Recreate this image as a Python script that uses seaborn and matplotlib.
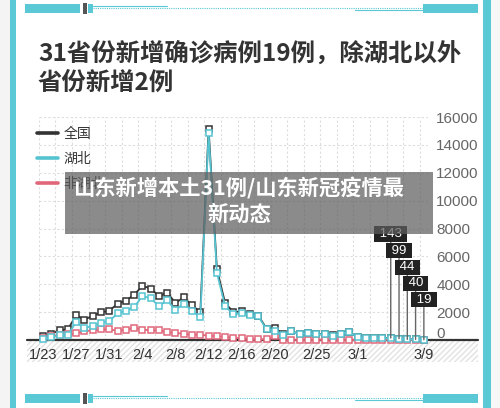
import matplotlib
matplotlib.use("Agg")
import matplotlib.pyplot as plt
import matplotlib.patches as mpatches
from matplotlib.lines import Line2D
from matplotlib.font_manager import FontProperties
import matplotlib.transforms as mtransforms
import numpy as np
import pandas as pd
import seaborn as sns

# daily new confirmed cases, 1/23 .. 3/9
national = [259, 444, 688, 769, 1771, 1459, 1737, 1982, 2102,
            2590, 2829, 3235, 3887, 3694, 3143, 3399, 2656, 3062, 2478,
            2015, 15152, 5090, 2641, 2009, 2048, 1886, 1749, 820, 889,
            397, 648, 409, 508, 406, 433, 327, 427, 573,
            202, 125, 119, 139, 143, 99, 44, 40, 19]
hubei = [105, 180, 323, 371, 1291, 840, 1032, 1220, 1347,
         1921, 2103, 2345, 3156, 2987, 2447, 2841, 2147, 2618, 2097,
         1638, 14840, 4823, 2420, 1843, 1933, 1807, 1693, 775, 631,
         366, 630, 398, 499, 401, 409, 318, 423, 570,
         196, 114, 115, 134, 126, 74, 41, 36, 17]
non_hubei = [154, 264, 365, 398, 480, 619, 705, 762, 755,
             669, 726, 890, 731, 707, 696, 558, 509, 444, 381,
             377, 312, 267, 221, 166, 115, 79, 56, 45, 258,
             31, 18, 11, 9, 5, 24, 9, 4, 3,
             6, 11, 4, 5, 17, 25, 3, 4, 2]
dates = [f"{d.month}/{d.day}" for d in pd.date_range("2020-01-23", "2020-03-09")]
shown_dates = ["1/23", "1/27", "1/31", "2/4", "2/8", "2/12", "2/16", "2/20",
               "2/25", "3/1", "3/9"]
series_names = ["全国", "湖北", "非湖北"]
series_colors = ["#333333", "#56c3d1", "#e0677a"]
labelled_dates = ["3/5", "3/6", "3/7", "3/8", "3/9"]
title_lines = ["31省份新增确诊病例19例，除湖北以外", "省份新增2例"]
overlay_lines = ["山东新增本土31例/山东新冠疫情最", "新动态"]

sns.set_style("white")
plt.rcParams['font.family'] = ['Noto Sans CJK SC', 'DejaVu Sans']
num_font = ['Liberation Sans', 'DejaVu Sans']
cjk_font = ['Noto Sans CJK SC', 'DejaVu Sans']

df = pd.DataFrame({"day": np.arange(len(dates)), "date": dates,
                   "全国": national, "湖北": hubei, "非湖北": non_hubei})

W, H = 500, 408
fig = plt.figure(figsize=(W / 100, H / 100), dpi=100)
fig.patch.set_facecolor("white")

def fx(px):
    return px / W

def fy(py):
    return 1 - py / H

# side frame
teal = "#5bc8d5"
fig.patches.append(mpatches.Rectangle((0, 0), fx(10), 1, transform=fig.transFigure,
                                      facecolor="#f4f4f4", edgecolor="none", zorder=0))
fig.patches.append(mpatches.Rectangle((fx(491), 0), fx(9), 1, transform=fig.transFigure,
                                      facecolor="#f7f7f7", edgecolor="none", zorder=0))
for x0, w in [(10, 6), (483, 8)]:
    fig.patches.append(mpatches.Rectangle((fx(x0), 0), fx(w), 1, transform=fig.transFigure,
                                          facecolor=teal, edgecolor="none", zorder=1))

# data zoom sliders (top and bottom)
for top in [4, 394]:
    yb = fy(top + 9)
    for x0, w in [(25, 55), (88, 5), (423, 55)]:
        fig.patches.append(mpatches.Rectangle((fx(x0), yb), fx(w), 9 / H,
                                              transform=fig.transFigure,
                                              facecolor=teal, edgecolor="none", zorder=1))
    fig.patches.append(mpatches.Rectangle((fx(83), fy(top + 10)), fx(4), 11 / H,
                                          transform=fig.transFigure,
                                          facecolor="#555555", edgecolor="none", zorder=2))
    fig.lines.append(Line2D([fx(93), fx(167)], [fy(top + 2), fy(top + 2)],
                            transform=fig.transFigure, color=teal, lw=0.8))
    fig.lines.append(Line2D([fx(93), fx(423)], [fy(top + 4), fy(top + 4)],
                            transform=fig.transFigure, color=teal, lw=0.8, ls=(0, (1, 1))))
    fig.lines.append(Line2D([fx(355), fx(423)], [fy(top + 6), fy(top + 6)],
                            transform=fig.transFigure, color=teal, lw=0.8))

# title
for i, line in enumerate(title_lines):
    fig.text(fx(38), fy(54 + 29 * i), line, fontsize=17.6, weight="bold", color="#333333",
             va="center", ha="left", family=cjk_font)

# chart axes
ax = fig.add_axes([fx(38.9), fy(340), (428 - 38.9) / W, 223 / H])
ax.set_xlim(-0.5, len(dates) - 0.5)
ax.set_ylim(0, 16000)
for s in ax.spines.values():
    s.set_visible(False)

grid_kw = dict(color="#dddddd", lw=0.8, ls=(0, (2, 2)), zorder=0)
for gx in np.arange(-0.5, len(dates), 2):
    ax.axvline(gx, **grid_kw)
for gy in range(2000, 16001, 2000):
    ax.axhline(gy, **grid_kw)

# baseline and hatched label band
x_ext0 = (27 - 38.9) / (428 - 38.9)
x_ext1 = (478 - 38.9) / (428 - 38.9)
ax.add_patch(mpatches.Rectangle((x_ext0, -22 / 223), x_ext1 - x_ext0, 22 / 223,
                                transform=ax.transAxes, facecolor="none",
                                edgecolor="#e2e2e2", hatch="//////", lw=0,
                                clip_on=False, zorder=0))
ax.add_line(Line2D([x_ext0, x_ext1], [0, 0], transform=ax.transAxes, color="#333333",
                   lw=1.6, clip_on=False, zorder=2))

order = [(0, 3), (2, 4), (1, 5)]
for idx, z in order:
    name = series_names[idx]
    c = series_colors[idx]
    sns.lineplot(data=df, x="day", y=name, ax=ax, color=c, lw=1.3, marker="s",
                 markersize=4.0, markerfacecolor="white", markeredgecolor=c,
                 markeredgewidth=1.1, clip_on=False, zorder=z, legend=False)
ax.set_xlabel("")
ax.set_ylabel("")

tick_pos = [dates.index(d) for d in shown_dates]
ax.set_xticks(tick_pos)
ax.set_xticklabels(shown_dates, fontsize=10.5, color="#333333", family=num_font)
ax.tick_params(axis="x", length=0, pad=6)

ax.yaxis.tick_right()
ax.set_yticks(range(0, 16001, 2000))
ax.set_yticklabels([str(v) for v in range(0, 16001, 2000)], fontsize=11,
                   color="#666666", family=num_font)
ax.tick_params(axis="y", length=0, pad=6)
for lab in ax.get_yticklabels():
    lab.set_horizontalalignment("left")
    if lab.get_text() == "0":
        lab.set_transform(lab.get_transform() +
                          mtransforms.ScaledTranslation(0, 7 / 100, fig.dpi_scale_trans))

# value labels for the last days
for i, d in enumerate(labelled_dates):
    k = dates.index(d)
    v = national[k]
    ax.annotate(f" {v} ", xy=(k, v), xytext=(0, 104 - 16 * i), textcoords="offset pixels",
                ha="center", va="center", fontsize=9.5, color="white", family=num_font,
                bbox=dict(boxstyle="square,pad=0.12", facecolor="#222222", edgecolor="none"),
                arrowprops=dict(arrowstyle="-", color="#666666", lw=1,
                                shrinkA=0, shrinkB=0),
                zorder=6)

handles = [Line2D([], [], color=c, lw=2.6) for c in series_colors]
leg = ax.legend(handles, series_names, loc="upper left",
                bbox_to_anchor=(fx(37), fy(127)), bbox_transform=fig.transFigure,
                frameon=False, handlelength=1.5, handletextpad=0.4, labelspacing=0.8,
                borderpad=0, borderaxespad=0,
                prop=FontProperties(family=cjk_font, size=10))
for t in leg.get_texts():
    t.set_color("#333333")

# overlay caption box
fig.patches.append(mpatches.Rectangle((fx(65), fy(234)), fx(368), 62 / H,
                                      transform=fig.transFigure, facecolor="#5e5e5e",
                                      edgecolor="none", alpha=0.72, zorder=10))
for i, line in enumerate(overlay_lines):
    fig.text(fx(239), fy(188 + 26 * i), line, fontsize=15.3, weight="bold", color="white",
             ha="center", va="center", family=cjk_font, zorder=11)

fig.savefig("out.png", dpi=100)
